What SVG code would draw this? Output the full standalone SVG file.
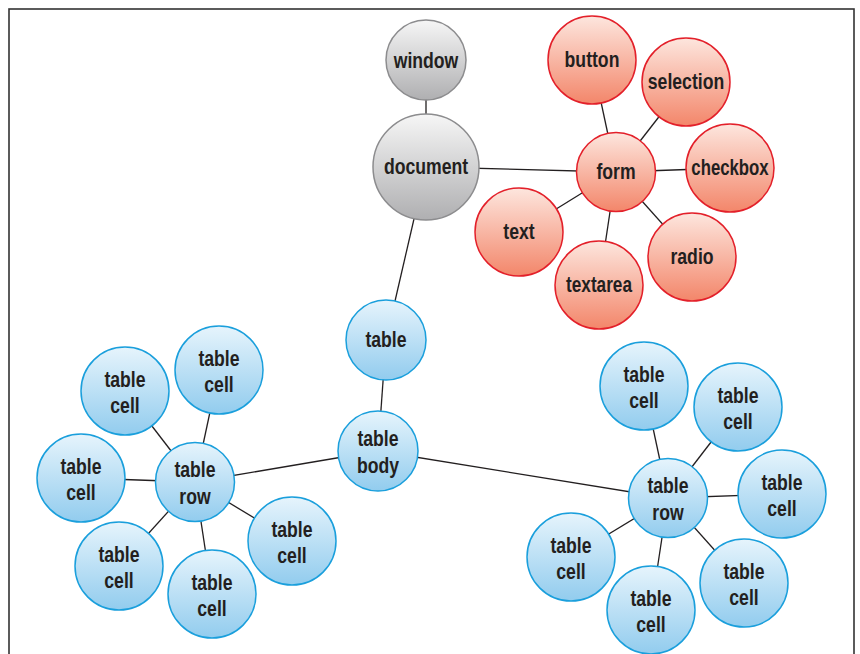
<svg xmlns="http://www.w3.org/2000/svg" width="860" height="654" viewBox="0 0 860 654">
<defs>
<linearGradient id="gGray" x1="0" y1="0" x2="0" y2="1"><stop offset="0" stop-color="#f6f6f6"/><stop offset="1" stop-color="#afafb1"/></linearGradient>
<linearGradient id="gRed" x1="0" y1="0" x2="0" y2="1"><stop offset="0" stop-color="#fde6de"/><stop offset="1" stop-color="#f3866a"/></linearGradient>
<linearGradient id="gBlue" x1="0" y1="0" x2="0" y2="1"><stop offset="0" stop-color="#e6f4fc"/><stop offset="1" stop-color="#92ccee"/></linearGradient>
<style>
.gray{fill:url(#gGray);stroke:#8c8c8e;stroke-width:1.5}
.red{fill:url(#gRed);stroke:#e3202a;stroke-width:1.5}
.blue{fill:url(#gBlue);stroke:#1a9fdc;stroke-width:1.5}
text{font-family:"Liberation Sans",Arial,sans-serif;font-weight:bold;font-size:21.5px;fill:#231f20;text-anchor:middle}
#connectors line{stroke:#231f20;stroke-width:1.3}
</style>
</defs>
<rect x="9" y="9" width="845" height="680" fill="#fff" stroke="#333" stroke-width="1.6"/>
<g id="connectors">
<line x1="426" y1="60" x2="426" y2="167"/>
<line x1="426" y1="167" x2="616" y2="172"/>
<line x1="616" y1="172" x2="592" y2="60"/>
<line x1="616" y1="172" x2="686" y2="82"/>
<line x1="616" y1="172" x2="730" y2="168"/>
<line x1="616" y1="172" x2="692" y2="257"/>
<line x1="616" y1="172" x2="599" y2="285"/>
<line x1="616" y1="172" x2="519" y2="232"/>
<line x1="426" y1="167" x2="386" y2="340"/>
<line x1="386" y1="340" x2="378" y2="451"/>
<line x1="378" y1="451" x2="195" y2="482"/>
<line x1="378" y1="451" x2="668" y2="498"/>
<line x1="195" y1="482" x2="125" y2="391"/>
<line x1="195" y1="482" x2="219" y2="370"/>
<line x1="195" y1="482" x2="81" y2="478"/>
<line x1="195" y1="482" x2="119" y2="566"/>
<line x1="195" y1="482" x2="212" y2="594"/>
<line x1="195" y1="482" x2="292" y2="541"/>
<line x1="668" y1="498" x2="644" y2="386"/>
<line x1="668" y1="498" x2="738" y2="407"/>
<line x1="668" y1="498" x2="782" y2="494"/>
<line x1="668" y1="498" x2="744" y2="583"/>
<line x1="668" y1="498" x2="651" y2="610"/>
<line x1="668" y1="498" x2="571" y2="557"/>
</g>
<g id="window"><circle class="gray" cx="426" cy="60" r="40"/><text transform="translate(426,68) scale(0.82,1)">window</text></g>
<g id="document"><circle class="gray" cx="426" cy="167" r="53"/><text transform="translate(426,174) scale(0.82,1)">document</text></g>
<g id="form"><circle class="red" cx="616" cy="172" r="39.5"/><text transform="translate(616,179) scale(0.82,1)">form</text></g>
<g id="button"><circle class="red" cx="592" cy="60" r="44"/><text transform="translate(592,67) scale(0.82,1)">button</text></g>
<g id="selection"><circle class="red" cx="686" cy="82" r="44"/><text transform="translate(686,89) scale(0.82,1)">selection</text></g>
<g id="checkbox"><circle class="red" cx="730" cy="168" r="44"/><text transform="translate(730,175) scale(0.78,1)">checkbox</text></g>
<g id="radio"><circle class="red" cx="692" cy="257" r="44"/><text transform="translate(692,264) scale(0.82,1)">radio</text></g>
<g id="textarea"><circle class="red" cx="599" cy="285" r="44"/><text transform="translate(599,292) scale(0.8,1)">textarea</text></g>
<g id="text"><circle class="red" cx="519" cy="232" r="44"/><text transform="translate(519,239) scale(0.82,1)">text</text></g>
<g id="table"><circle class="blue" cx="386" cy="340" r="40"/><text transform="translate(386,347) scale(0.82,1)">table</text></g>
<g id="tablebody"><circle class="blue" cx="378" cy="451" r="40"/><text transform="translate(378,446) scale(0.82,1)">table</text><text transform="translate(378,472.5) scale(0.82,1)">body</text></g>
<g id="rowL"><circle class="blue" cx="195" cy="482" r="39.5"/><text transform="translate(195,477) scale(0.82,1)">table</text><text transform="translate(195,503.5) scale(0.82,1)">row</text></g>
<g id="cellL1"><circle class="blue" cx="125" cy="391" r="44"/><text transform="translate(125,386.5) scale(0.82,1)">table</text><text transform="translate(125,413) scale(0.82,1)">cell</text></g>
<g id="cellL2"><circle class="blue" cx="219" cy="370" r="44"/><text transform="translate(219,365.5) scale(0.82,1)">table</text><text transform="translate(219,392) scale(0.82,1)">cell</text></g>
<g id="cellL3"><circle class="blue" cx="81" cy="478" r="44"/><text transform="translate(81,473.5) scale(0.82,1)">table</text><text transform="translate(81,500) scale(0.82,1)">cell</text></g>
<g id="cellL4"><circle class="blue" cx="119" cy="566" r="44"/><text transform="translate(119,561.5) scale(0.82,1)">table</text><text transform="translate(119,588) scale(0.82,1)">cell</text></g>
<g id="cellL5"><circle class="blue" cx="212" cy="594" r="44"/><text transform="translate(212,589.5) scale(0.82,1)">table</text><text transform="translate(212,616) scale(0.82,1)">cell</text></g>
<g id="cellL6"><circle class="blue" cx="292" cy="541" r="44"/><text transform="translate(292,536.5) scale(0.82,1)">table</text><text transform="translate(292,563) scale(0.82,1)">cell</text></g>
<g id="rowR"><circle class="blue" cx="668" cy="498" r="39.5"/><text transform="translate(668,493) scale(0.82,1)">table</text><text transform="translate(668,519.5) scale(0.82,1)">row</text></g>
<g id="cellR1"><circle class="blue" cx="644" cy="386" r="44"/><text transform="translate(644,381.5) scale(0.82,1)">table</text><text transform="translate(644,408) scale(0.82,1)">cell</text></g>
<g id="cellR2"><circle class="blue" cx="738" cy="407" r="44"/><text transform="translate(738,402.5) scale(0.82,1)">table</text><text transform="translate(738,429) scale(0.82,1)">cell</text></g>
<g id="cellR3"><circle class="blue" cx="782" cy="494" r="44"/><text transform="translate(782,489.5) scale(0.82,1)">table</text><text transform="translate(782,516) scale(0.82,1)">cell</text></g>
<g id="cellR4"><circle class="blue" cx="744" cy="583" r="44"/><text transform="translate(744,578.5) scale(0.82,1)">table</text><text transform="translate(744,605) scale(0.82,1)">cell</text></g>
<g id="cellR5"><circle class="blue" cx="651" cy="610" r="44"/><text transform="translate(651,605.5) scale(0.82,1)">table</text><text transform="translate(651,632) scale(0.82,1)">cell</text></g>
<g id="cellR6"><circle class="blue" cx="571" cy="557" r="44"/><text transform="translate(571,552.5) scale(0.82,1)">table</text><text transform="translate(571,579) scale(0.82,1)">cell</text></g>
</svg>
